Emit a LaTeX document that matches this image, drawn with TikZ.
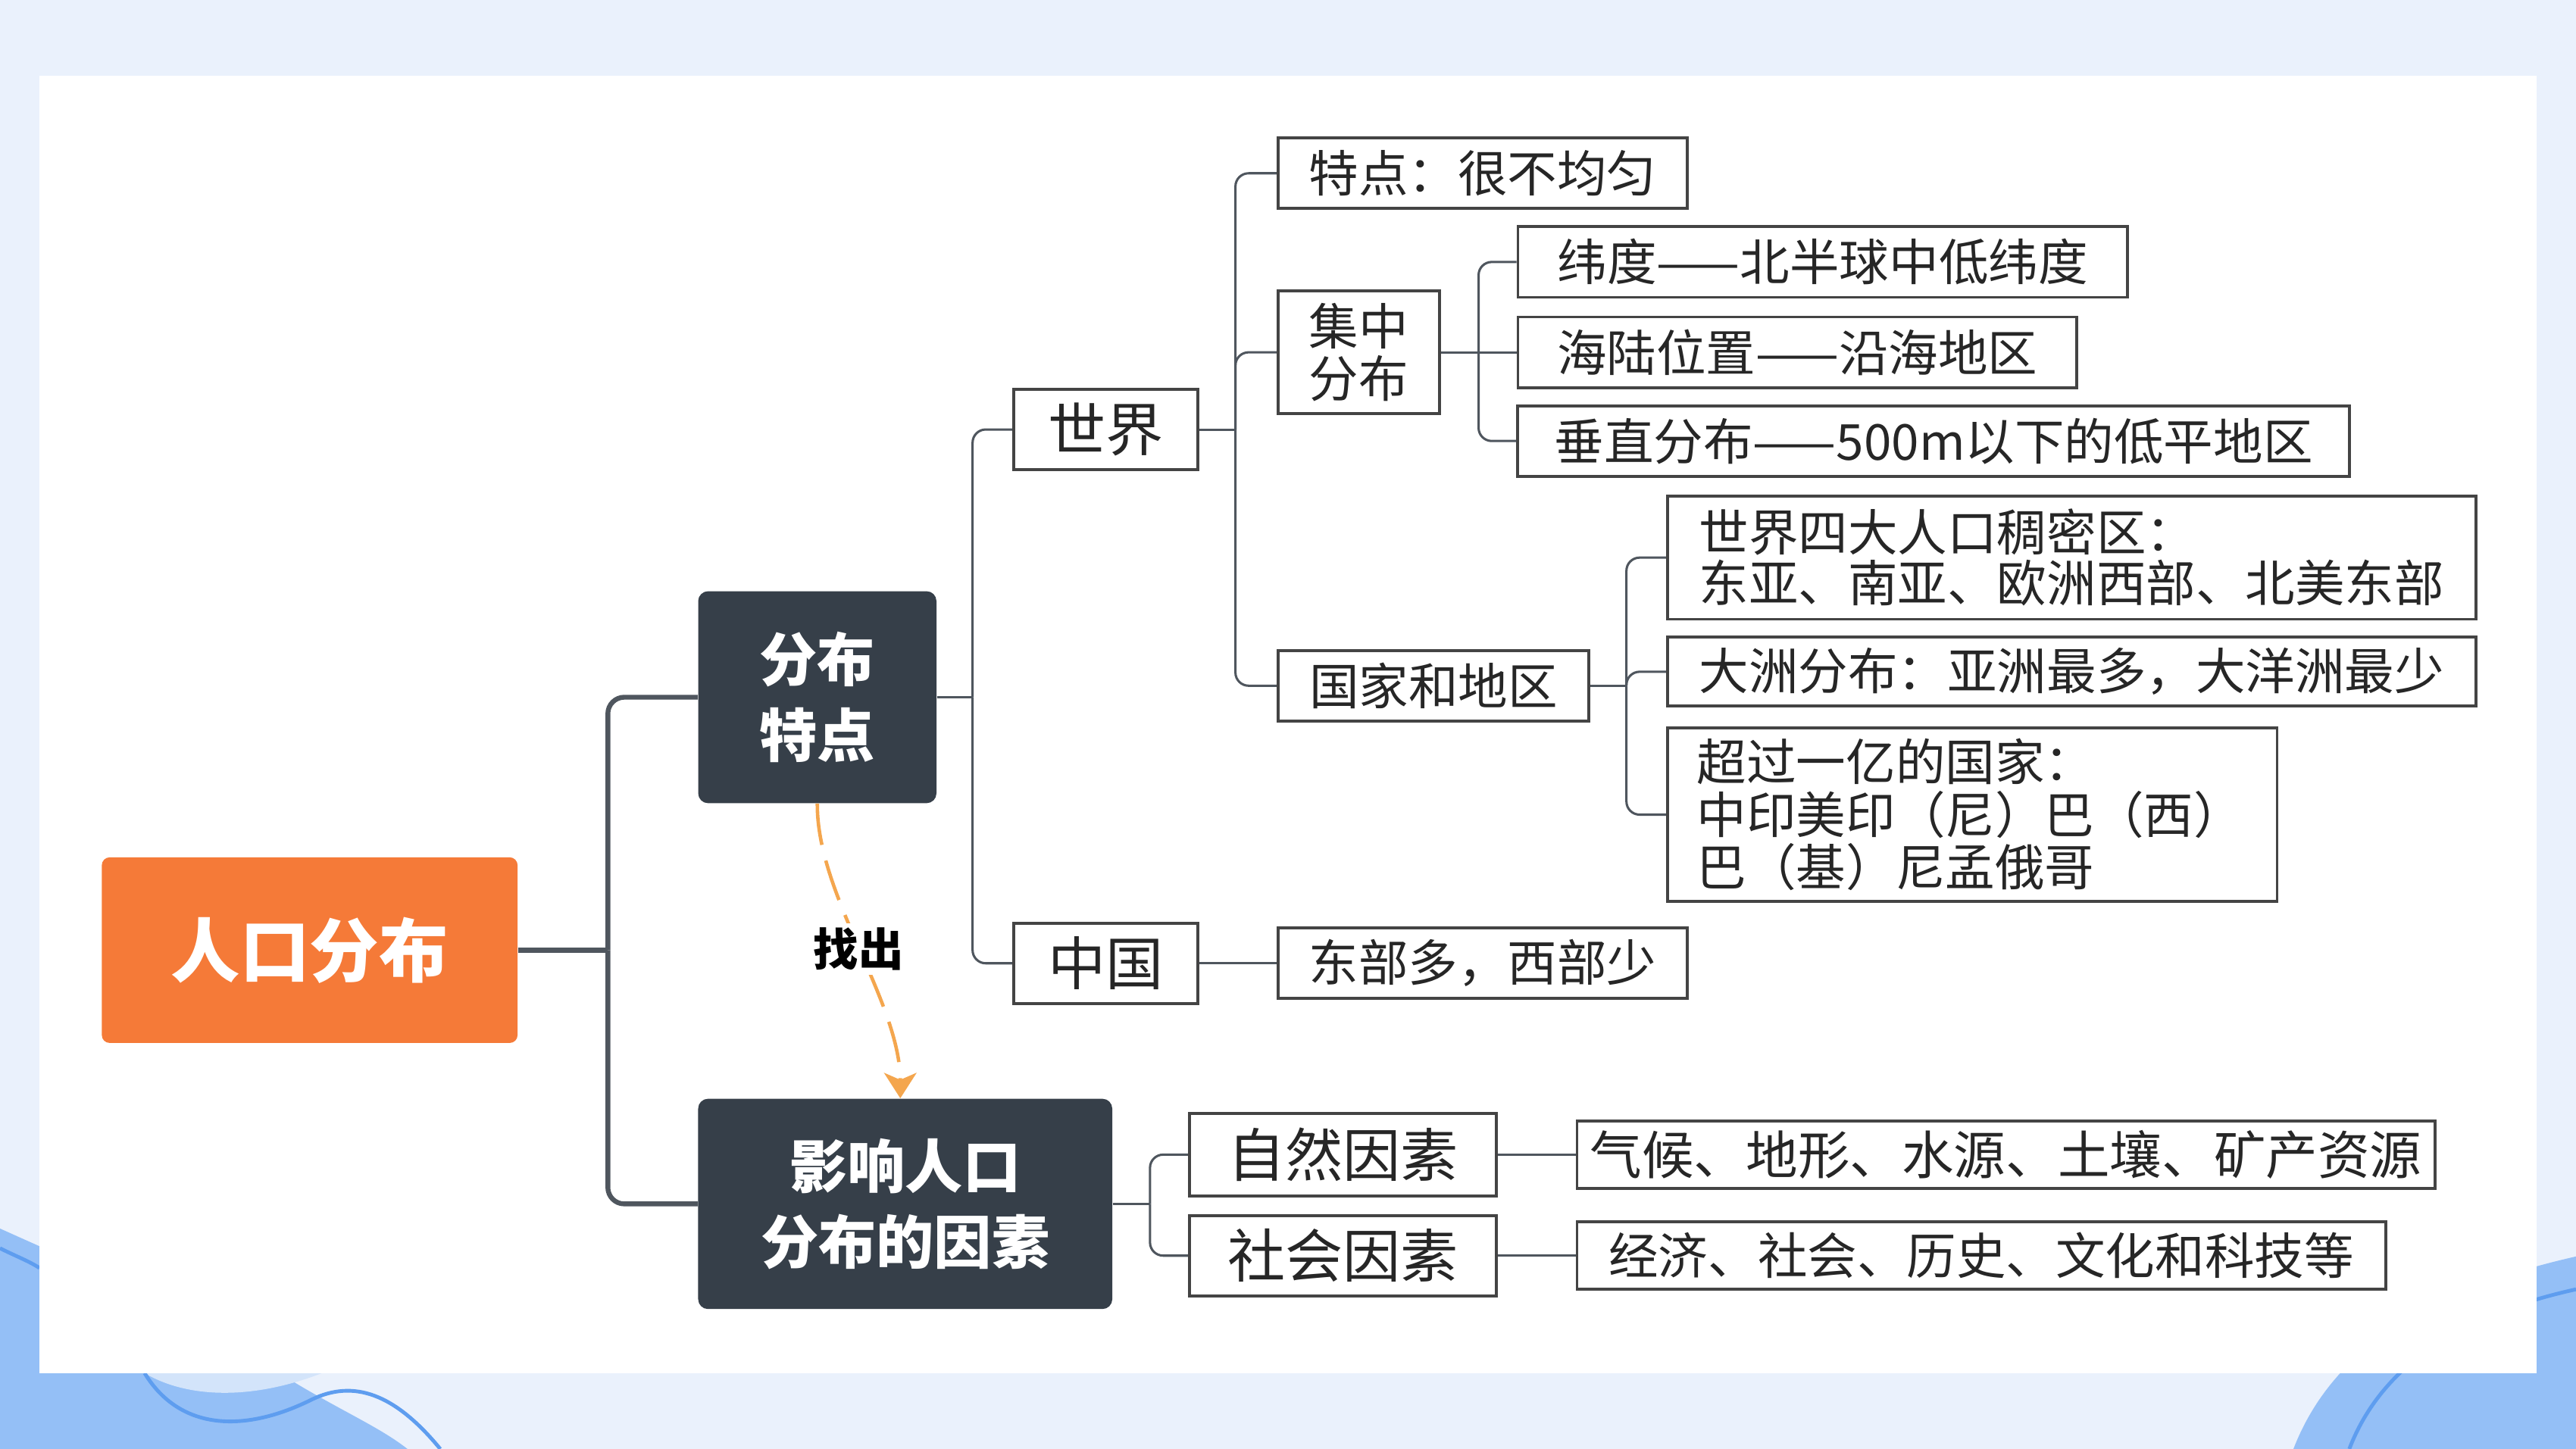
\documentclass[tikz,border=0pt]{standalone}
\usepackage{fontspec}
\setmainfont{Noto Sans CJK SC}
\usepackage{tikz}
\usetikzlibrary{arrows.meta,positioning,calc}

\definecolor{bgblue}{HTML}{EAF1FC}
\definecolor{waveblue}{HTML}{94BFF6}
\definecolor{wavelight}{HTML}{D3E4FA}
\definecolor{waveline}{HTML}{5E9DEF}
\definecolor{rootorange}{HTML}{F57A38}
\definecolor{darkslate}{HTML}{363F49}
\definecolor{boxgray}{HTML}{444444}
\definecolor{linegray}{HTML}{4F565E}
\definecolor{arroworange}{HTML}{F4A64E}

\begin{document}
\begin{tikzpicture}[x=0.025cm, y=-0.025cm,
    rootbox/.style={rectangle, rounded corners=0.12cm, fill=rootorange, text=white, font=\fontsize{30}{34}\selectfont\bfseries, minimum width=6.325cm, minimum height=2.825cm},
    mainbox/.style={rectangle, rounded corners=0.15cm, fill=darkslate, text=white, align=center, font=\fontsize{25}{32.7}\selectfont\bfseries},
    box/.style={rectangle, draw=boxgray, line width=1.3pt, fill=white, text=black!85, align=left, font=\fontsize{21.5}{22.5}\selectfont, minimum height=1.075cm},
    bigbox/.style={box, font=\fontsize{25}{28}\selectfont, minimum width=2.8cm},
    trunk/.style={draw=linegray, line width=2.1pt, rounded corners=0.25cm},
    edge/.style={draw=linegray, line width=1pt, rounded corners=0.2cm},
    hint/.style={draw=arroworange, line width=1.5pt, dash pattern=on 18pt off 7pt, -{Stealth[length=11pt,width=14pt,inset=3pt]}}
]
\useasboundingbox (0,0) rectangle (1568,882.2);
\fill[bgblue] (0,0) rectangle (1568,882.2);

\fill[waveblue] (0,748) .. controls (60,775) and (130,805) .. (170,836) .. controls (205,858) and (230,868) .. (248,882.2) -- (0,882.2) -- cycle;
\fill[wavelight] (88,836) .. controls (115,852) and (155,852) .. (196,836) -- cycle;
\draw[waveline, line width=1.6pt] (88,836) .. controls (110,872) and (150,872) .. (190,852) .. controls (215,840) and (240,848) .. (268,882.2);
\draw[waveline, line width=1.6pt] (0,760) .. controls (10,765) and (18,768) .. (24,772);
\fill[waveblue] (1396,882.2) .. controls (1420,820) and (1480,785) .. (1568,765) -- (1568,882.2) -- cycle;
\draw[waveline, line width=1.6pt] (1430,882.2) .. controls (1450,830) and (1500,800) .. (1568,785);

\fill[white] (24,46) rectangle (1544,836);

\node[rootbox] (root) at (188.5,578.5) {人口分布};
\node[mainbox, minimum width=3.625cm, minimum height=3.225cm] (fb) at (497.5,424.5) {分布\\特点};
\node[mainbox, minimum width=6.3cm, minimum height=3.2cm] (yx) at (551,733) {影响人口\\分布的因素};

\node[bigbox, minimum height=1.225cm] (sj) at (673,261.5) {世界};
\node[bigbox, minimum height=1.225cm] (zg) at (673,586.5) {中国};

\node[box, minimum width=6.225cm] (td) at (902.5,105.5) {特点：很不均匀};
\node[box, minimum width=2.45cm, minimum height=1.875cm] (jz) at (827,214.5) {集中\\分布};
\node[box, minimum width=4.725cm] (gj) at (872.5,417.5) {国家和地区};

\node[box, minimum width=9.275cm] (wd) at (1109.5,159.5) {纬度——北半球中低纬度};
\node[box, minimum width=8.5cm] (hl) at (1094,214.5) {海陆位置——沿海地区};
\node[box, minimum width=12.65cm] (cz) at (1177,268.5) {垂直分布——500m以下的低平地区};

\node[box, minimum width=12.3cm, minimum height=1.875cm, font=\fontsize{21.5}{22}\selectfont] (sd) at (1261,339.5) {世界四大人口稠密区：\\东亚、南亚、欧洲西部、北美东部};
\node[box, minimum width=12.3cm, minimum height=1.05cm] (dz) at (1261,409) {大洲分布：亚洲最多，大洋洲最少};
\node[box, text width=8.375cm, inner xsep=0.45cm, minimum height=2.65cm, font=\fontsize{21.5}{22.7}\selectfont] (cg) at (1200.5,496) {超过一亿的国家：\\中印美印（尼）巴（西）\\巴（基）尼孟俄哥};

\node[box, minimum width=6.225cm] (db) at (902.5,586.5) {东部多，西部少};

\node[bigbox, minimum width=4.675cm, minimum height=1.25cm] (zr) at (817.5,703) {自然因素};
\node[bigbox, minimum width=4.675cm, minimum height=1.225cm] (sh) at (817.5,764.5) {社会因素};
\node[box, minimum width=13.05cm, minimum height=1.025cm, font=\fontsize{22.5}{24}\selectfont] (qh) at (1221,703) {气候、地形、水源、土壤、矿产资源};
\node[box, minimum width=12.3cm, minimum height=1.025cm] (jj) at (1206,764.5) {经济、社会、历史、文化和科技等};

\draw[trunk] (root.east) -- (370,578.5) coordinate (j0);
\draw[trunk] (j0) |- (fb.west);
\draw[trunk] (j0) |- (yx.west);

\draw[edge] (fb.east) -- (592,424.5) coordinate (j1);
\draw[edge] (j1) |- (sj.west);
\draw[edge] (j1) |- (zg.west);

\draw[edge] (sj.east) -- (752,261.5) coordinate (j2);
\draw[edge] (j2) |- (td.west);
\draw[edge] (j2) |- (jz.west);
\draw[edge] (j2) |- (gj.west);

\draw[edge] (jz.east) -- (900,214.5) coordinate (j3);
\draw[edge] (j3) |- (wd.west);
\draw[edge] (j3) -- (hl.west);
\draw[edge] (j3) |- (cz.west);

\draw[edge] (gj.east) -- (990,417.5) coordinate (j4);
\draw[edge] (j4) |- (sd.west);
\draw[edge] (j4) |- (dz.west);
\draw[edge] (j4) |- (cg.west);

\draw[edge] (zg.east) -- (db.west);

\draw[edge] (yx.east) -- (700,733) coordinate (j5);
\draw[edge] (j5) |- (zr.west);
\draw[edge] (j5) |- (sh.west);
\draw[edge] (zr.east) -- (qh.west);
\draw[edge] (sh.east) -- (jj.west);

\draw[hint] (fb.south) .. controls (497,545) and (548,610) .. ($(yx.north)+(-3,0)$)
    node[pos=0.5, fill=white, inner sep=2pt, text=black, font=\fontsize{19.5}{21}\selectfont\bfseries] (zc) {找出};
\end{tikzpicture}
\end{document}
